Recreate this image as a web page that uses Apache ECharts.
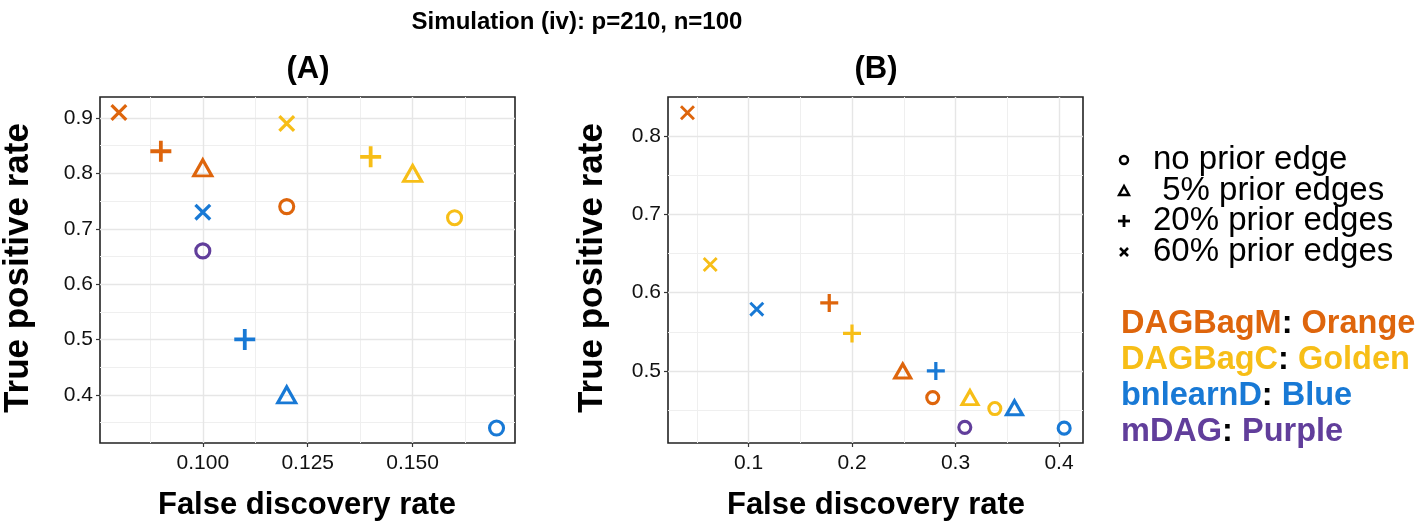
<!DOCTYPE html>
<html>
<head>
<meta charset="utf-8">
<script src="https://cdn.jsdelivr.net/npm/echarts@6/dist/echarts.min.js"></script>
<style>
html,body{margin:0;padding:0;background:#fff;}
#chart{width:1424px;height:528px;}
</style>
</head>
<body>
<div id="chart"></div>
<script>
// ---------- data ----------
const shapeNames = ['no prior edge', ' 5% prior edges', '20% prior edges', '60% prior edges'];
const methodNames = ['DAGBagM', 'DAGBagC', 'bnlearnD', 'mDAG'];
const colourNames = ['Orange', 'Golden', 'Blue', 'Purple'];

// Panel (A): values listed in shapeNames order
const A_DAGBagM_fdr = [0.120, 0.100, 0.090, 0.080];
const A_DAGBagM_tpr = [0.74, 0.81, 0.84, 0.91];
const A_DAGBagC_fdr = [0.160, 0.150, 0.140, 0.120];
const A_DAGBagC_tpr = [0.72, 0.80, 0.83, 0.89];
const A_bnlearnD_fdr = [0.170, 0.120, 0.110, 0.100];
const A_bnlearnD_tpr = [0.34, 0.40, 0.50, 0.73];
const A_mDAG_fdr = [0.100];
const A_mDAG_tpr = [0.66];

// Panel (B)
const B_DAGBagM_fdr = [0.278, 0.249, 0.178, 0.041];
const B_DAGBagM_tpr = [0.466, 0.500, 0.587, 0.830];
const B_DAGBagC_fdr = [0.338, 0.314, 0.200, 0.063];
const B_DAGBagC_tpr = [0.452, 0.466, 0.548, 0.636];
const B_bnlearnD_fdr = [0.405, 0.357, 0.281, 0.108];
const B_bnlearnD_tpr = [0.427, 0.453, 0.500, 0.579];
const B_mDAG_fdr = [0.309];
const B_mDAG_tpr = [0.428];

// tick labels
const A_xTicks = [0.100, 0.125, 0.150];
const A_xMinor = [0.0875, 0.1125, 0.1375, 0.1625];
const A_yTicks = [0.4, 0.5, 0.6, 0.7, 0.8, 0.9];
const A_yMinor = [0.35, 0.45, 0.55, 0.65, 0.75, 0.85];
const B_xTicks = [0.1, 0.2, 0.3, 0.4];
const B_xMinor = [0.05, 0.15, 0.25, 0.35];
const B_yTicks = [0.5, 0.6, 0.7, 0.8];
const B_yMinor = [0.45, 0.55, 0.65, 0.75];

// ---------- styling ----------
const colours = ['#DE650C', '#F7BE17', '#1879D5', '#613E9B'];
const PLUS = 'path://M4.1,0H5.9V10H4.1Z M0,4.1H10V5.9H0Z';
const CROSS = 'path://M0,1.35L1.35,0L10,8.65L8.65,10Z M8.65,0L10,1.35L1.35,10L0,8.65Z';
const symbols = ['circle', 'triangle', PLUS, CROSS];
const sizesA = [[14, 14], [18, 16], [21, 21], [17, 17]];
const sizesB = [[12, 12], [16, 14], [18, 18], [15, 15]];

function makePoints(fdr, tpr, sizes, colour) {
  return fdr.map((x, i) => {
    const hollow = i < 2;
    return {
      value: [x, tpr[i]],
      symbol: symbols[i],
      symbolSize: sizes[i],
      itemStyle: hollow
        ? { color: 'rgba(0,0,0,0)', borderColor: colour, borderWidth: 3.1, opacity: 1 }
        : { color: colour, borderWidth: 0, opacity: 1 }
    };
  });
}

const panelA = [[A_DAGBagM_fdr, A_DAGBagM_tpr], [A_DAGBagC_fdr, A_DAGBagC_tpr],
                [A_bnlearnD_fdr, A_bnlearnD_tpr], [A_mDAG_fdr, A_mDAG_tpr]];
const panelB = [[B_DAGBagM_fdr, B_DAGBagM_tpr], [B_DAGBagC_fdr, B_DAGBagC_tpr],
                [B_bnlearnD_fdr, B_bnlearnD_tpr], [B_mDAG_fdr, B_mDAG_tpr]];

const series = [];
panelA.forEach((d, m) => series.push({
  type: 'scatter', name: methodNames[m] + ' A', xAxisIndex: 0, yAxisIndex: 0,
  itemStyle: { opacity: 1 },
  data: makePoints(d[0], d[1], sizesA, colours[m]), z: 5
}));
panelB.forEach((d, m) => series.push({
  type: 'scatter', name: methodNames[m] + ' B', xAxisIndex: 2, yAxisIndex: 2,
  itemStyle: { opacity: 1 },
  data: makePoints(d[0], d[1], sizesB, colours[m]), z: 5
}));

const FONT = 'Liberation Sans, Arial, Helvetica, sans-serif';
const tickLabel = { color: '#111', fontSize: 21, fontFamily: FONT };
const majorLine = { show: true, lineStyle: { color: '#e6e6e6', width: 1.4 } };
const minorLine = { show: true, lineStyle: { color: '#efefef', width: 1 } };

function mainAxis(gridIndex, min, max, ticks, digits, isX) {
  return {
    type: 'value', gridIndex, min, max,
    axisLine: { show: false },
    axisTick: { show: true, length: 4, lineStyle: { color: '#333', width: 1.2 }, customValues: ticks },
    axisLabel: Object.assign({ customValues: ticks, margin: isX ? 10 : 7,
      formatter: v => v.toFixed(digits) }, tickLabel),
    splitLine: majorLine, z: 2
  };
}
function minorAxis(gridIndex, min, max, ticks) {
  return {
    type: 'value', gridIndex, min, max,
    axisLine: { show: false }, axisLabel: { show: false },
    axisTick: { show: false, customValues: ticks },
    splitLine: minorLine, z: 1
  };
}

const gridBox = { show: true, borderColor: '#222', borderWidth: 1.6, backgroundColor: 'rgba(0,0,0,0)' };

const legendX = 1118, legendText = 1153;
const legendYs = [160, 191, 221, 252];
const colourYs = [324, 360, 396, 432];

const graphics = [];
// shape legend keys (black)
graphics.push({ type: 'circle', shape: { cx: legendX + 6, cy: legendYs[0], r: 4 }, style: { fill: 'none', stroke: '#000', lineWidth: 2.5 } });
graphics.push({ type: 'polygon', shape: { points: [[legendX + 6, legendYs[1] - 5], [legendX + 1, legendYs[1] + 4], [legendX + 11, legendYs[1] + 4]] }, style: { fill: 'none', stroke: '#000', lineWidth: 2.4 } });
graphics.push({ type: 'line', shape: { x1: legendX, y1: legendYs[2], x2: legendX + 12, y2: legendYs[2] }, style: { stroke: '#000', lineWidth: 2.8 } });
graphics.push({ type: 'line', shape: { x1: legendX + 6, y1: legendYs[2] - 6, x2: legendX + 6, y2: legendYs[2] + 6 }, style: { stroke: '#000', lineWidth: 2.8 } });
graphics.push({ type: 'line', shape: { x1: legendX + 2, y1: legendYs[3] - 4, x2: legendX + 10, y2: legendYs[3] + 4 }, style: { stroke: '#000', lineWidth: 2.5 } });
graphics.push({ type: 'line', shape: { x1: legendX + 10, y1: legendYs[3] - 4, x2: legendX + 2, y2: legendYs[3] + 4 }, style: { stroke: '#000', lineWidth: 2.5 } });
shapeNames.forEach((s, i) => graphics.push({
  type: 'text', x: legendText, y: legendYs[i],
  style: { text: s, font: '33px ' + FONT, fill: '#000', textVerticalAlign: 'middle' }
}));
methodNames.forEach((m, i) => graphics.push({
  type: 'text', x: 1121, y: colourYs[i],
  style: {
    text: '{c|' + m + '}{k|: }{c|' + colourNames[i] + '}',
    textVerticalAlign: 'middle',
    rich: {
      c: { font: 'bold 32.5px ' + FONT, fill: colours[i] },
      k: { font: 'bold 32.5px ' + FONT, fill: '#000' }
    }
  }
}));
// titles
graphics.push({ type: 'text', x: 577, y: 22, style: { text: 'Simulation (iv): p=210, n=100', font: 'bold 24px ' + FONT, fill: '#000', textAlign: 'center', textVerticalAlign: 'middle' } });
graphics.push({ type: 'text', x: 308, y: 69, style: { text: '(A)', font: 'bold 31px ' + FONT, fill: '#000', textAlign: 'center', textVerticalAlign: 'middle' } });
graphics.push({ type: 'text', x: 876, y: 69, style: { text: '(B)', font: 'bold 31px ' + FONT, fill: '#000', textAlign: 'center', textVerticalAlign: 'middle' } });
// axis titles
graphics.push({ type: 'text', x: 307, y: 505, style: { text: 'False discovery rate', font: 'bold 31px ' + FONT, fill: '#000', textAlign: 'center', textVerticalAlign: 'middle' } });
graphics.push({ type: 'text', x: 876, y: 505, style: { text: 'False discovery rate', font: 'bold 31px ' + FONT, fill: '#000', textAlign: 'center', textVerticalAlign: 'middle' } });
graphics.push({ type: 'text', x: 18, y: 268, rotation: Math.PI / 2, style: { text: 'True positive rate', font: 'bold 35px ' + FONT, fill: '#000', textAlign: 'center', textVerticalAlign: 'middle' } });
graphics.push({ type: 'text', x: 592, y: 268, rotation: Math.PI / 2, style: { text: 'True positive rate', font: 'bold 35px ' + FONT, fill: '#000', textAlign: 'center', textVerticalAlign: 'middle' } });

const option = {
  animation: false,
  backgroundColor: '#fff',
  grid: [
    Object.assign({ left: 100, top: 97, width: 415, height: 346 }, gridBox),
    Object.assign({ left: 100, top: 97, width: 415, height: 346, show: false }),
    Object.assign({ left: 668, top: 97, width: 415, height: 346 }, gridBox),
    Object.assign({ left: 668, top: 97, width: 415, height: 346, show: false })
  ],
  xAxis: [
    mainAxis(0, 0.0755, 0.1744, A_xTicks, 3, true),
    minorAxis(1, 0.0755, 0.1744, A_xMinor),
    mainAxis(2, 0.0222, 0.4232, B_xTicks, 1, true),
    minorAxis(3, 0.0222, 0.4232, B_xMinor)
  ],
  yAxis: [
    mainAxis(0, 0.313, 0.938, A_yTicks, 1, false),
    minorAxis(1, 0.313, 0.938, A_yMinor),
    mainAxis(2, 0.408, 0.850, B_yTicks, 1, false),
    minorAxis(3, 0.408, 0.850, B_yMinor)
  ],
  series,
  graphic: graphics
};

const chart = echarts.init(document.getElementById('chart'), null, { renderer: 'canvas' });
chart.setOption(option);
</script>
</body>
</html>
